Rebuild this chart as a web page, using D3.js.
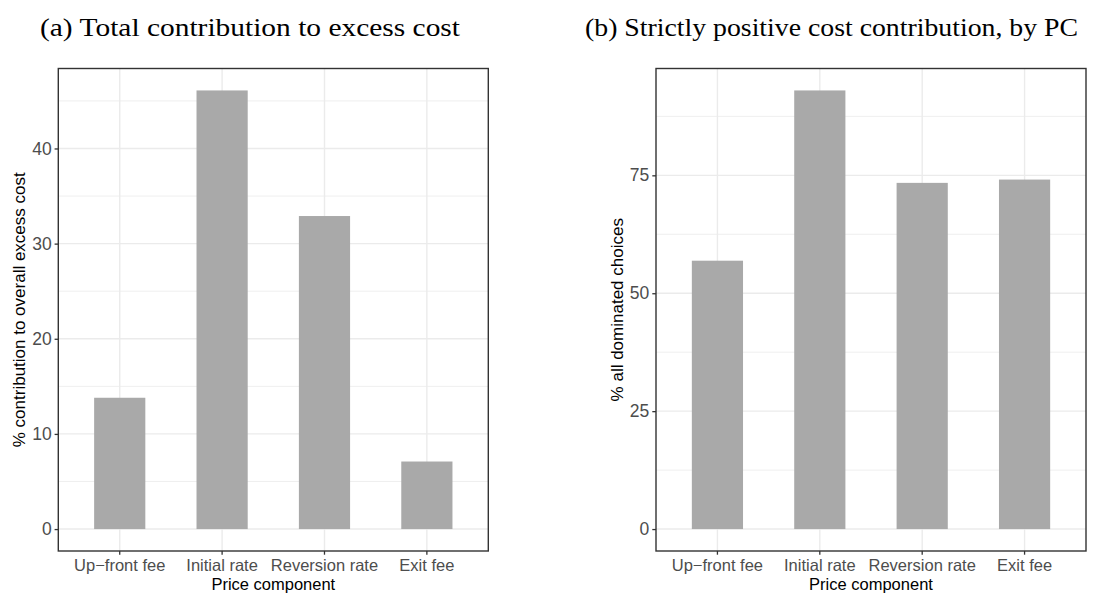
<!DOCTYPE html>
<html>
<head>
<meta charset="utf-8">
<script src="https://cdn.jsdelivr.net/npm/d3@7"></script>
<style>
  body { margin: 0; background: #fff; }
  svg { display: block; }
</style>
</head>
<body>
<svg id="chart" width="1111" height="593"></svg>
<script>
const categories = ["Up\u2212front fee", "Initial rate", "Reversion rate", "Exit fee"];
const valuesA = [13.8, 46.1, 32.9, 7.1];
const valuesB = [56.9, 93.0, 73.4, 74.1];
const ticksA = [0, 10, 20, 30, 40];
const minorA = [5, 15, 25, 35, 45];
const ticksB = [0, 25, 50, 75];
const minorB = [12.5, 37.5, 62.5, 87.5];

const svg = d3.select("#chart");
const sansFont = "'Liberation Sans', Arial, sans-serif";
const serifFont = "'Liberation Serif', 'DejaVu Serif', serif";

function panel(opts) {
  const { left, right, top, bottom, values, ticks, minor, title, titleX, titleW, ytitle, ytitleX } = opts;
  const maxV = d3.max(values);
  const y = d3.scaleLinear()
    .domain([-0.05 * maxV, maxV * 1.05])
    .range([bottom, top]);
  // ggplot discrete expansion 0.6
  const xc = d3.scaleLinear().domain([0.4, categories.length + 0.6]).range([left, right]);
  const g = svg.append("g");

  g.selectAll(".minor").data(minor.filter(v => y(v) > top && y(v) < bottom)).enter()
    .append("line")
    .attr("x1", left).attr("x2", right)
    .attr("y1", d => y(d)).attr("y2", d => y(d))
    .attr("stroke", "#EBEBEB").attr("stroke-width", 0.8);
  g.selectAll(".majy").data(ticks).enter()
    .append("line")
    .attr("x1", left).attr("x2", right)
    .attr("y1", d => y(d)).attr("y2", d => y(d))
    .attr("stroke", "#EBEBEB").attr("stroke-width", 1.4);
  g.selectAll(".majx").data(categories).enter()
    .append("line")
    .attr("x1", (d, i) => xc(i + 1)).attr("x2", (d, i) => xc(i + 1))
    .attr("y1", top).attr("y2", bottom)
    .attr("stroke", "#EBEBEB").attr("stroke-width", 1.4);

  const bw = (xc(2) - xc(1)) * 0.5;
  g.selectAll(".bar").data(values).enter()
    .append("rect")
    .attr("x", (d, i) => xc(i + 1) - bw / 2)
    .attr("width", bw)
    .attr("y", d => y(d))
    .attr("height", d => y(0) - y(d))
    .attr("fill", "#A9A9A9");

  g.append("rect")
    .attr("x", left).attr("y", top)
    .attr("width", right - left).attr("height", bottom - top)
    .attr("fill", "none").attr("stroke", "#333333").attr("stroke-width", 1.4);

  const ya = g.append("g").attr("transform", `translate(${left},0)`)
    .call(d3.axisLeft(y).tickValues(ticks).tickSize(3.7).tickPadding(3).tickFormat(d3.format("d")));
  ya.select(".domain").remove();
  ya.selectAll(".tick line").attr("stroke", "#333333").attr("stroke-width", 1.3);
  ya.selectAll(".tick text").attr("fill", "#4D4D4D").style("font-family", sansFont).style("font-size", "17.5px");

  const xa = g.append("g").attr("transform", `translate(0,${bottom})`);
  categories.forEach((c, i) => {
    xa.append("line").attr("x1", xc(i + 1)).attr("x2", xc(i + 1))
      .attr("y1", 0).attr("y2", 3.7).attr("stroke", "#333333").attr("stroke-width", 1.3);
    xa.append("text").attr("x", xc(i + 1)).attr("y", 19.5)
      .attr("text-anchor", "middle").attr("fill", "#4D4D4D")
      .style("font-family", sansFont).style("font-size", "16.5px").text(c);
  });

  g.append("text").attr("x", (left + right) / 2).attr("y", 589.5)
    .attr("text-anchor", "middle").attr("fill", "#000")
    .style("font-family", sansFont).style("font-size", "16.5px").text("Price component");
  g.append("text")
    .attr("transform", `translate(${ytitleX},${(top + bottom) / 2}) rotate(-90)`)
    .attr("text-anchor", "middle").attr("fill", "#000")
    .style("font-family", sansFont).style("font-size", "17px").text(ytitle);

  svg.append("text").attr("x", titleX).attr("y", 36)
    .attr("text-anchor", "middle").attr("fill", "#000")
    .attr("textLength", titleW).attr("lengthAdjust", "spacingAndGlyphs")
    .style("font-family", serifFont).style("font-size", "25px").text(title);
}

panel({ left: 58.3, right: 488.3, top: 68.5, bottom: 551, values: valuesA, ticks: ticksA, minor: minorA,
  title: "(a) Total contribution to excess cost", titleX: 250, titleW: 420,
  ytitle: "% contribution to overall excess cost", ytitleX: 25 });
panel({ left: 656, right: 1086, top: 68.5, bottom: 551, values: valuesB, ticks: ticksB, minor: minorB,
  title: "(b) Strictly positive cost contribution, by PC", titleX: 831.5, titleW: 493,
  ytitle: "% all dominated choices", ytitleX: 623 });
</script>
</body>
</html>
